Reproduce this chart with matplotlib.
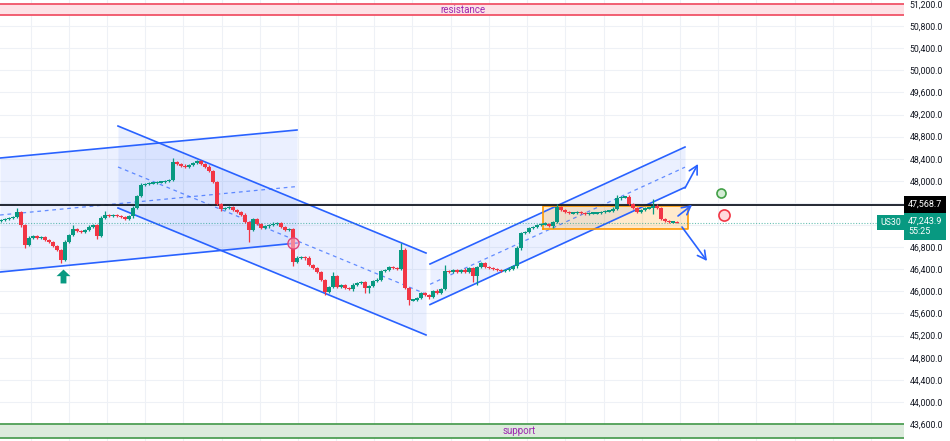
import matplotlib
matplotlib.use("Agg")
import matplotlib.pyplot as plt
from matplotlib.path import Path
from matplotlib.transforms import blended_transform_factory

plt.rcParams["font.family"] = ["Roboto", "DejaVu Sans"]

# ---------------- data ----------------
first_open = 47270
closes = [
    47291, 47310, 47328, 47346, 47436, 47201, 46839, 46966, 47002, 46966,
    46984, 46930, 46893, 46821, 46749, 46568, 46893, 47020, 47129, 47092,
    47074, 47110, 47165, 47201, 47002, 47328, 47382, 47364, 47382, 47364,
    47346, 47310, 47364, 47509, 47726, 47925, 47943, 47961, 47961, 47979,
    47979, 47997, 48015, 48341, 48305, 48269, 48251, 48287, 48323, 48359,
    48305, 48251, 48178, 47979, 47581, 47490, 47509, 47527, 47472, 47436,
    47382, 47255, 47110, 47310, 47219, 47147, 47183, 47201, 47219, 47237,
    47165, 47110, 47129, 46531, 46604, 46622, 46604, 46477, 46423, 46350,
    46206, 45989, 46079, 46278, 46079, 46115, 46061, 46043, 46115, 46151,
    46170, 46061, 46097, 46188, 46206, 46369, 46387, 46441, 46423, 46405,
    46749, 46061, 45844, 45844, 45880, 45970, 45934, 45898, 46007, 45970,
    46043, 46369, 46350, 46387, 46350, 46387, 46350, 46423, 46278, 46441,
    46513, 46441, 46423, 46405, 46387, 46369, 46387, 46405, 46459, 46785,
    47056, 47074, 47147, 47165, 47201, 47219, 47219, 47183, 47255, 47527,
    47472, 47436, 47418, 47418, 47436, 47418, 47400, 47418, 47418, 47418,
    47436, 47454, 47454, 47490, 47690, 47708, 47708, 47581, 47509, 47436,
    47472, 47509, 47509, 47545, 47509, 47310, 47273, 47255, 47255, 47243.9,
]
wick_hi = [
    20, 15, 25, 18, 73, 20, 22, 30, 18, 25,
    15, 20, 25, 18, 22, 20, 30, 25, 72, 20,
    18, 25, 30, 20, 15, 35, 72, 20, 18, 25,
    15, 20, 22, 30, 25, 35, 20, 18, 25, 20,
    15, 22, 18, 72, 25, 20, 30, 22, 18, 18,
    25, 20, 30, 18, 25, 20, 15, 22, 25, 20,
    18, 30, 25, 20, 22, 18, 25, 20, 30, 15,
    22, 25, 20, 18, 30, 25, 20, 35, 18, 22,
    20, 25, 18, 72, 20, 25, 22, 18, 30, 20,
    25, 20, 18, 22, 30, 20, 25, 18, 22, 20,
    127, 30, 20, 25, 18, 22, 20, 25, 18, 30,
    20, 108, 25, 18, 22, 20, 30, 25, 18, 20,
    22, 25, 20, 18, 25, 20, 22, 30, 18, 35,
    25, 20, 22, 18, 25, 20, 30, 18, 22, 54,
    20, 25, 18, 22, 20, 25, 18, 20, 22, 25,
    18, 20, 25, 30, 54, 25, 20, 30, 25, 18,
    22, 25, 20, 127, 30, 20, 18, 15, 12, 10,
]
wick_lo = [
    18, 22, 15, 25, 20, 30, 54, 20, 25, 18,
    22, 18, 25, 20, 15, 55, 25, 20, 18, 22,
    25, 20, 18, 22, 54, 20, 25, 18, 22, 20,
    25, 18, 20, 30, 22, 18, 25, 20, 15, 22,
    20, 25, 18, 22, 20, 25, 18, 22, 20, 25,
    18, 22, 25, 20, 18, 30, 22, 25, 20, 18,
    25, 20, 217, 22, 18, 25, 20, 30, 22, 18,
    25, 20, 18, 72, 25, 20, 30, 22, 18, 25,
    20, 55, 25, 18, 22, 20, 25, 18, 30, 22,
    20, 91, 91, 25, 20, 18, 22, 25, 20, 18,
    25, 20, 91, 22, 18, 25, 20, 30, 22, 18,
    25, 20, 18, 22, 25, 20, 18, 22, 108, 163,
    20, 18, 25, 22, 20, 18, 25, 20, 22, 30,
    35, 25, 20, 18, 22, 25, 20, 18, 30, 20,
    22, 18, 25, 20, 18, 22, 20, 25, 18, 20,
    22, 25, 18, 20, 25, 30, 22, 18, 25, 20,
    18, 25, 20, 109, 22, 25, 18, 12, 10, 8,
]

y_ticks = [43600, 44000, 44400, 44800, 45200, 45600, 46000, 46400, 46800, 47200,
           47600, 48000, 48400, 48800, 49200, 49600, 50000, 50400, 50800, 51200]
hidden_ticks = [47200, 47600]

resistance_zone = (51000, 51200)
support_zone = (43350, 43600)
key_level = 47568.7
last_price = 47243.9
countdown = "55:25"
symbol = "US30"

# drawings (bar index, price)
channel_left = {"x": (-0.25, 74.0), "upper": (48413, 48920), "lower": (46350, 46875)}
channel_down = {"x": (29.25, 106.25), "upper": (48992, 46694), "lower": (47509, 45211)}
channel_up = {"x": (107.25, 171.0), "upper": (46495, 48612), "lower": (45761, 47883)}
range_box = {"x": (135.5, 171.75), "y": (47129, 47545)}
arrows = [((171.0, 47870), (174.25, 48305)),
          ((169.25, 47364), (172.75, 47563)),
          ((170.25, 47165), (176.5, 46550))]
anchor_point = (73.0, 46875)
buy_marker = (15.5, 46278)
green_dot = (180.0, 47780)
red_dot = (180.75, 47382)

# ---------------- figure ----------------
W, H = 950, 441
fig = plt.figure(figsize=(W / 100, H / 100), dpi=100)
ax = fig.add_axes([0, 0, 904 / W, 1])
ax.set_xlim(-0.25, 225.75)
ax.set_ylim(43292.5, 51272.4)
for s in ax.spines.values():
    s.set_visible(False)

GREEN = "#089981"
RED = "#f23645"
BLUE = "#2962ff"
GRID = "#eef1f6"

# grid
for t in y_ticks:
    ax.axhline(t, color=GRID, lw=0.8, zorder=0)
gx = 7.375
while gx < 226:
    ax.axvline(gx, color=GRID, lw=0.8, zorder=0)
    gx += 9.55

# zones
ax.axhspan(*resistance_zone, color="#fde2e6", lw=0, zorder=1)
for v in resistance_zone:
    ax.axhline(v, color="#f05468", lw=1.3, zorder=1.5)
ax.text(115.5, sum(resistance_zone) / 2, "resistance", ha="center", va="center",
        color="#9c27b0", fontsize=7, zorder=2)
ax.axhspan(*support_zone, color="#dcebdc", lw=0, zorder=1)
for v in support_zone:
    ax.axhline(v, color="#4f9f55", lw=1.3, zorder=1.5)
ax.text(129.5, sum(support_zone) / 2, "support", ha="center", va="center",
        color="#9c27b0", fontsize=7, zorder=2)


def channel(c):
    x = c["x"]
    lo, up = c["lower"], c["upper"]
    ax.fill_between(x, lo, up, color=BLUE, alpha=0.09, lw=0, zorder=1)
    ax.plot(x, up, color=BLUE, lw=1.2, zorder=2.5)
    ax.plot(x, lo, color=BLUE, lw=1.2, zorder=2.5)
    mid = [(a + b) / 2 for a, b in zip(lo, up)]
    ax.plot(x, mid, color=BLUE, lw=0.9, alpha=0.7, ls=(0, (3, 3)), zorder=2.5)


channel(channel_left)
channel(channel_down)
channel(channel_up)

# range box
bx, by = range_box["x"], range_box["y"]
ax.fill_between(bx, by[0], by[1], color="#ff9800", alpha=0.2, lw=0, zorder=1.2)
ax.plot([bx[0], bx[1], bx[1], bx[0], bx[0]], [by[0], by[0], by[1], by[1], by[0]],
        color="#ff9800", lw=1.2, zorder=2.6)

# horizontal levels
ax.axhline(key_level, color="#131722", lw=1.3, zorder=2.7)
ax.axhline(last_price, color=GREEN, lw=0.8, ls=(0, (1, 1.5)), alpha=0.6, zorder=2.7)

# candles
opens = [first_open] + closes[:-1]
idx = list(range(len(closes)))
colors = [GREEN if c >= o else RED for o, c in zip(opens, closes)]
bottoms, heights, highs, lows = [], [], [], []
for o, c, wh, wl in zip(opens, closes, wick_hi, wick_lo):
    top, bot = max(o, c), min(o, c)
    if top - bot < 22:
        mid = (top + bot) / 2
        top, bot = mid + 11, mid - 11
    bottoms.append(bot)
    heights.append(top - bot)
    highs.append(max(o, c) + wh)
    lows.append(min(o, c) - wl)
ax.vlines(idx, lows, highs, colors=colors, lw=0.9, zorder=4)
ax.bar(idx, heights, bottom=bottoms, width=0.78, color=colors, lw=0, zorder=4.5)

# arrows
for start, end in arrows:
    ax.annotate("", xy=end, xytext=start,
                arrowprops=dict(arrowstyle="->,head_length=0.6,head_width=0.32",
                                color=BLUE, lw=1.2, shrinkA=0, shrinkB=0),
                zorder=5)

# markers
ax.plot(*anchor_point, "o", ms=8, mfc=(0.97, 0.73, 0.82, 0.6), mec="#e0457b",
        mew=1.0, zorder=5)
up_arrow = Path([(0, 1), (-1, 0.05), (-0.42, 0.05), (-0.42, -1), (0.42, -1),
                 (0.42, 0.05), (1, 0.05), (0, 1)])
ax.plot(*buy_marker, marker=up_arrow, ms=10, color=GREEN, mec="none", zorder=5)
ax.plot(*green_dot, "o", ms=6.5, mfc="#d4ecd5", mec="#43a047", mew=1.2, zorder=5)
ax.plot(*red_dot, "o", ms=8, mfc="#ffd9dd", mec=RED, mew=1.2, zorder=5)

# y axis on right
ax.yaxis.tick_right()
ax.set_yticks(y_ticks)
ax.set_yticklabels(["" if t in hidden_ticks else f"{t:,.1f}" for t in y_ticks])
ax.tick_params(axis="y", length=0, pad=4, labelsize=6.3, labelcolor="#131722")
ax.set_xticks([])

tr = blended_transform_factory(ax.transAxes, ax.transData)
ax.annotate(f"{key_level:,.1f}", xy=(1, key_level), xycoords=tr,
            xytext=(4, 0), textcoords="offset pixels", ha="left", va="center",
            color="white", fontsize=6.5, annotation_clip=False,
            bbox=dict(boxstyle="square,pad=0.45", fc="#000000", ec="none"))
ax.annotate(f"{last_price:,.1f}\n{countdown}", xy=(1, last_price), xycoords=tr,
            xytext=(4, -4), textcoords="offset pixels", ha="left", va="center",
            color="white", fontsize=6.5, linespacing=1.15, annotation_clip=False,
            bbox=dict(boxstyle="square,pad=0.4", fc=GREEN, ec="none"))
ax.annotate(symbol, xy=(1, last_price), xycoords=tr,
            xytext=(-3, 0), textcoords="offset pixels", ha="right", va="center",
            color="white", fontsize=6.3, annotation_clip=False, zorder=6,
            bbox=dict(boxstyle="square,pad=0.35", fc=GREEN, ec="none"))

fig.savefig("out.png", dpi=100)
